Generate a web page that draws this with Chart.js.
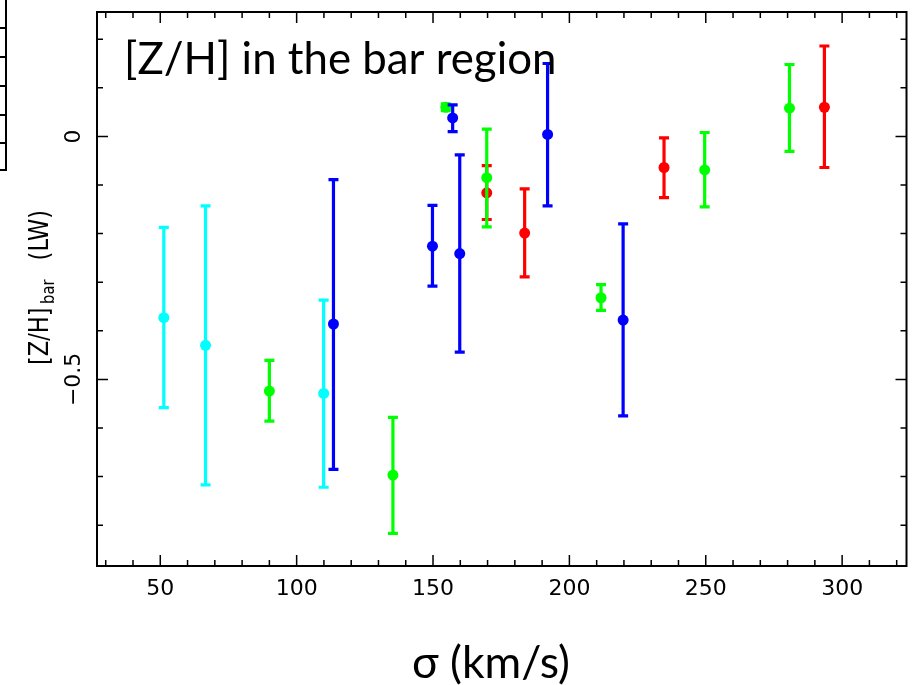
<!DOCTYPE html>
<html>
<head>
<meta charset="utf-8">
<script src="https://cdn.jsdelivr.net/npm/chart.js@4.4.0/dist/chart.umd.min.js"></script>
<style>
  html, body { margin: 0; padding: 0; background: #fff; }
  #wrap { width: 912px; height: 685px; }
</style>
</head>
<body>
<div id="wrap"><canvas id="zhChart" width="912" height="685"></canvas></div>
<script>
// axis ranges and tick labels
const xRange = [26.8, 323.6];
const yRange = [-0.884, 0.256];
const xTickLabels = [50, 100, 150, 200, 250, 300];
const yTickLabels = [0, -0.5];

// sigma (km/s), [Z/H] value, lower and upper end of the error bar
const cyanSigma = [51.3, 66.6, 109.9];
const cyanZH    = [-0.373, -0.430, -0.529];
const cyanLo    = [-0.558, -0.717, -0.722];
const cyanHi    = [-0.187, -0.143, -0.337];

const blueSigma = [113.5, 149.8, 157.2, 159.8, 192.0, 219.7];
const blueZH    = [-0.386, -0.226, 0.038, -0.241, 0.004, -0.378];
const blueLo    = [-0.685, -0.308, 0.010, -0.444, -0.143, -0.575];
const blueHi    = [-0.089, -0.142, 0.065, -0.038, 0.150, -0.180];

const greenSigma = [90.0, 135.3, 154.7, 169.7, 211.6, 249.6, 280.7];
const greenZH    = [-0.524, -0.697, 0.060, -0.085, -0.332, -0.069, 0.058];
const greenLo    = [-0.586, -0.817, 0.053, -0.186, -0.358, -0.145, -0.031];
const greenHi    = [-0.461, -0.578, 0.067, 0.015, -0.305, 0.008, 0.148];

const redSigma = [169.7, 183.6, 234.7, 293.5];
const redZH    = [-0.116, -0.199, -0.064, 0.060];
const redLo    = [-0.171, -0.289, -0.126, -0.064];
const redHi    = [-0.060, -0.108, -0.003, 0.186];

function makePoints(sig, zh, lo, hi) {
  return sig.map((s, i) => ({ x: s, y: zh[i], lo: lo[i], hi: hi[i] }));
}

function makeSet(label, color, pts) {
  return {
    label: label,
    data: pts,
    backgroundColor: color,
    borderColor: color,
    borderWidth: 0,
    pointRadius: 5.5,
    pointHoverRadius: 5.5
  };
}

// error bars drawn under each dataset's points
const errorBars = {
  id: 'errorBars',
  beforeDatasetDraw(chart, args) {
    const ds = chart.data.datasets[args.index];
    const xs = chart.scales.x, ys = chart.scales.y;
    const ctx = chart.ctx;
    ctx.save();
    ctx.strokeStyle = ds.borderColor;
    ctx.lineWidth = 3.2;
    ds.data.forEach(p => {
      const px = xs.getPixelForValue(p.x);
      const lo = ys.getPixelForValue(p.lo);
      const hi = ys.getPixelForValue(p.hi);
      ctx.beginPath();
      ctx.moveTo(px, lo); ctx.lineTo(px, hi);
      ctx.moveTo(px - 5, lo); ctx.lineTo(px + 5, lo);
      ctx.moveTo(px - 5, hi); ctx.lineTo(px + 5, hi);
      ctx.stroke();
    });
    ctx.restore();
  }
};

// frame, inward ticks, labels and titles
const frame = {
  id: 'frame',
  afterDraw(chart) {
    const ctx = chart.ctx;
    const a = chart.chartArea;
    const xs = chart.scales.x, ys = chart.scales.y;
    ctx.save();
    ctx.strokeStyle = '#000';
    ctx.fillStyle = '#000';
    ctx.lineWidth = 2;
    ctx.strokeRect(a.left, a.top, a.right - a.left, a.bottom - a.top);

    ctx.lineWidth = 1.5;
    ctx.beginPath();
    for (let v = 30; v <= 320; v += 10) {
      const px = xs.getPixelForValue(v);
      const len = v % 50 === 0 ? 11 : 6;
      ctx.moveTo(px, a.bottom); ctx.lineTo(px, a.bottom - len);
      ctx.moveTo(px, a.top); ctx.lineTo(px, a.top + len);
    }
    for (let k = -8; k <= 2; k++) {
      const v = k / 10;
      const py = ys.getPixelForValue(v);
      const len = k % 5 === 0 ? 11 : 6;
      ctx.moveTo(a.left, py); ctx.lineTo(a.left + len, py);
      ctx.moveTo(a.right, py); ctx.lineTo(a.right - len, py);
    }
    ctx.stroke();

    // fragment of the neighbouring panel at the left edge
    ctx.lineWidth = 2;
    ctx.beginPath();
    ctx.moveTo(6, 0); ctx.lineTo(6, 170); ctx.lineTo(0, 170);
    [28, 57, 86, 115, 143].forEach(t => { ctx.moveTo(0, t); ctx.lineTo(6, t); });
    ctx.stroke();

    // x tick labels
    ctx.font = '22px "DejaVu Sans"';
    ctx.textAlign = 'center';
    ctx.textBaseline = 'alphabetic';
    xTickLabels.forEach(v => {
      ctx.fillText(String(v), xs.getPixelForValue(v), 595);
    });

    // y tick labels, rotated
    ctx.textBaseline = 'middle';
    yTickLabels.forEach(v => {
      const txt = v < 0 ? '\u2212' + String(Math.abs(v)) : String(v);
      ctx.save();
      ctx.translate(74, ys.getPixelForValue(v));
      ctx.rotate(-Math.PI / 2);
      ctx.fillText(txt, 0, 0);
      ctx.restore();
    });

    // y axis title: [Z/H]_bar (LW)
    const mainFont = '26px "DejaVu Sans"';
    const subFont = '17px "DejaVu Sans"';
    ctx.font = mainFont;
    const w1 = ctx.measureText('[Z/H]').width;
    const w3 = ctx.measureText('(LW)').width;
    ctx.font = subFont;
    const w2 = ctx.measureText('bar').width;
    const gapA = 4, gapB = 22;
    const total = w1 + gapA + w2 + gapB + w3;
    const sx = 155 / total;
    ctx.save();
    ctx.translate(48, 365);
    ctx.rotate(-Math.PI / 2);
    ctx.scale(sx, 1);
    ctx.textAlign = 'left';
    ctx.textBaseline = 'alphabetic';
    ctx.font = mainFont;
    ctx.fillText('[Z/H]', 0, 0);
    ctx.font = subFont;
    ctx.fillText('bar', w1 + gapA, 6);
    ctx.font = mainFont;
    ctx.fillText('(LW)', w1 + gapA + w2 + gapB, 0);
    ctx.restore();

    // panel title inside the plot
    const titleText = '[Z/H] in the bar region';
    ctx.font = '40px Lato, "Open Sans", sans-serif';
    let tw = ctx.measureText(titleText).width;
    const titleSize = 40 * 432 / tw;
    ctx.font = titleSize.toFixed(1) + 'px Lato, "Open Sans", sans-serif';
    ctx.textAlign = 'left';
    ctx.fillText(titleText, 124, 60);

    // x axis title
    const xTitle = '\u03c3 (km/s)';
    ctx.font = '36px Lato, "Open Sans", sans-serif';
    tw = ctx.measureText(xTitle).width;
    const xtSize = 36 * 158 / tw;
    ctx.font = xtSize.toFixed(1) + 'px Lato, "Open Sans", sans-serif';
    ctx.textAlign = 'center';
    ctx.fillText(xTitle, 491, 664);
    ctx.restore();
  }
};

new Chart(document.getElementById('zhChart'), {
  type: 'scatter',
  data: {
    datasets: [
      makeSet('cyan', '#00ffff', makePoints(cyanSigma, cyanZH, cyanLo, cyanHi)),
      makeSet('blue', '#0000ff', makePoints(blueSigma, blueZH, blueLo, blueHi)),
      makeSet('green', '#00ff00', makePoints(greenSigma, greenZH, greenLo, greenHi)),
      makeSet('red', '#ff0000', makePoints(redSigma, redZH, redLo, redHi))
    ]
  },
  options: {
    responsive: false,
    animation: false,
    layout: { padding: { left: 97, right: 5, top: 12, bottom: 119 } },
    plugins: {
      legend: { display: false },
      tooltip: { enabled: false }
    },
    scales: {
      x: { type: 'linear', min: xRange[0], max: xRange[1], display: false },
      y: { type: 'linear', min: yRange[0], max: yRange[1], display: false }
    }
  },
  plugins: [errorBars, frame]
});
</script>
</body>
</html>
